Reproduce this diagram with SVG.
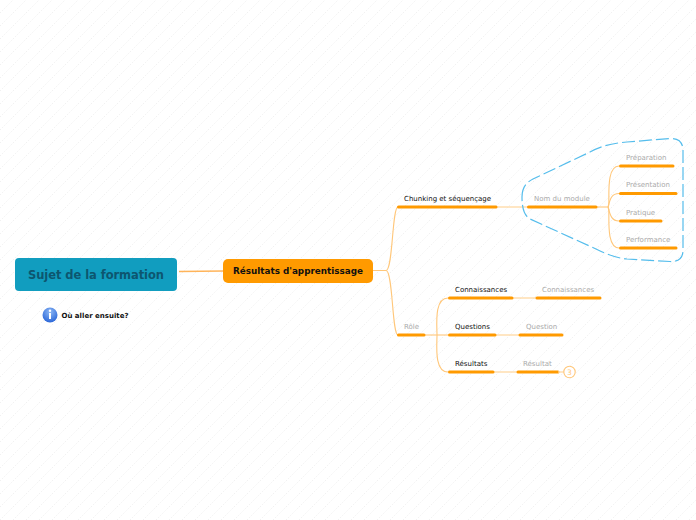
<svg xmlns="http://www.w3.org/2000/svg" width="696" height="520" viewBox="0 0 696 520">
<style>
text{font-family:"DejaVu Sans",Verdana,sans-serif}
.l{font-size:7px;fill:#111}
.g{font-size:7px;fill:#aaa}
.u{stroke:#ff9a00;stroke-width:3;stroke-linecap:round;fill:none}
.c{stroke:#ffc77a;stroke-width:1.1;fill:none}
.t{stroke:#ffd9a3;stroke-width:1.3;fill:none}
</style>
<defs>
<pattern id="h" width="13" height="13" patternUnits="userSpaceOnUse"><path d="M0 13L13 0" stroke="#eeeeee" stroke-width="0.800" stroke-dasharray="1.500 1.500"/></pattern>
<radialGradient id="i" cx="50%" cy="30%" r="70%"><stop offset="0" stop-color="#8db8f5"/><stop offset="1" stop-color="#2a66d8"/></radialGradient>
</defs>
<rect width="696" height="520" fill="#fff"/>
<rect width="696" height="520" fill="url(#h)"/>
<g id="connectors">
<path d="M179 271.500L224 271" stroke="#ffb45a" stroke-width="1.300" fill="none"/>
<path class="c" d="M372 270.500H386C393 270.500 392 207 398 207"/>
<path class="c" d="M386 270.500C393 270.500 392 335 398 335"/>
<path class="t" d="M497 207H528"/>
<path class="c" d="M597 207H608"/>
<path class="c" d="M619 166C604 166 611 207 608 207C611 207 604 248 619 248"/>
<path class="c" d="M619 193.500C611 193.500 610 200 608 207C610 214 611 221 619 221"/>
<path class="c" d="M425 335H437"/>
<path class="c" d="M448 298C434 298 437 325 437 335C437 345 434 372 448 372"/>
<path class="c" d="M437 335H448"/>
<path class="t" d="M513 298H536"/>
<path class="t" d="M496 335H519"/>
<path class="t" d="M494 372H517"/>
<path d="M522 197C522 187 527 182 533 179L590 152C603 145 615 143 627 142L670 138.500C679 138 683 143 683 150V250C683 258 679 262 670 261.500L627 259C616 258 606 254 596 249L530 219C525 216 522 210 522 197Z" fill="none" stroke="#55bdec" stroke-width="1.200" stroke-dasharray="13 4"/>
</g>
<g id="n-root"><rect x="15" y="258" width="162" height="33" rx="4" fill="#119dbf"/><text x="28" y="279" textLength="136" font-size="11.500" font-weight="700" fill="#0d566f">Sujet de la formation</text></g>
<g id="n-info"><circle cx="50" cy="315" r="7.500" fill="url(#i)"/><rect x="49" y="313" width="2" height="6" fill="#fff"/><circle cx="50" cy="310.800" r="1.200" fill="#fff"/><text x="61.500" y="318" font-size="7" font-weight="700" fill="#111">Où aller ensuite?</text></g>
<g id="n-resultats"><rect x="223" y="259" width="150" height="24" rx="5" fill="#ff9a00"/><text x="298" y="274" text-anchor="middle" font-size="8.800" font-weight="700" fill="#111">Résultats d'apprentissage</text></g>
<g id="n-chunking"><path class="u" d="M398.500 207H496"/><text class="l" x="404" y="201">Chunking et séquençage</text></g>
<g id="n-role"><path class="u" d="M398.500 335H424"/><text class="g" x="404" y="329">Rôle</text></g>
<g id="n-module"><path class="u" d="M528.500 207H596"/><text class="g" x="534" y="201">Nom du module</text></g>
<g id="n-prep"><path class="u" d="M620.500 166H673"/><text class="g" x="626" y="160">Préparation</text></g>
<g id="n-pres"><path class="u" d="M620.500 193.500H676"/><text class="g" x="626" y="187">Présentation</text></g>
<g id="n-prat"><path class="u" d="M620.500 221H661"/><text class="g" x="626" y="215">Pratique</text></g>
<g id="n-perf"><path class="u" d="M620.500 248H676"/><text class="g" x="626" y="242">Performance</text></g>
<g id="n-conn"><path class="u" d="M449.500 298H512"/><text class="l" x="455" y="292">Connaissances</text></g>
<g id="n-ques"><path class="u" d="M449.500 335H495"/><text class="l" x="455" y="329">Questions</text></g>
<g id="n-resu"><path class="u" d="M449.500 372H493"/><text class="l" x="455" y="366">Résultats</text></g>
<g id="n-conn2"><path class="u" d="M537 298H600"/><text class="g" x="542" y="292">Connaissances</text></g>
<g id="n-ques2"><path class="u" d="M520 335H562"/><text class="g" x="526" y="329">Question</text></g>
<g id="n-resu2"><path class="u" d="M518 372H558"/><text class="g" x="523" y="366">Résultat</text><path class="t" d="M558 372H564"/><circle cx="569.500" cy="372" r="5.700" fill="#fff" stroke="#ffc77a" stroke-width="1.100"/><text x="569.500" y="375" text-anchor="middle" font-size="7.500" fill="#ffc77a">3</text></g>
</svg>
